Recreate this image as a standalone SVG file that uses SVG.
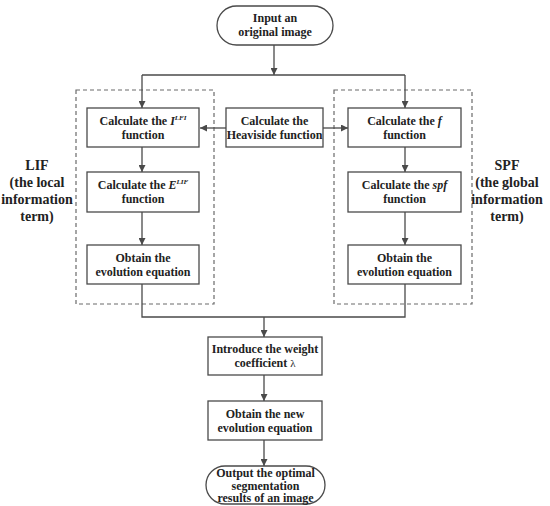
<svg xmlns="http://www.w3.org/2000/svg" width="550" height="506" viewBox="0 0 550 506">
<style>
.box{fill:#fff;stroke:#4a4a4a;stroke-width:1.3}
.dash{fill:none;stroke:#6a6a6a;stroke-width:1.2;stroke-dasharray:4,3}
.t{font-family:"Liberation Serif",serif;font-weight:bold;font-size:12px;fill:#222;text-anchor:middle}
.lbl{font-family:"Liberation Serif",serif;font-weight:bold;font-size:14px;fill:#222;text-anchor:middle}
.ln{fill:none;stroke:#4a4a4a;stroke-width:1.3}
</style>
<defs>
<marker id="ah" viewBox="0 0 10 10" refX="10" refY="5" markerWidth="7" markerHeight="7" orient="auto" markerUnits="userSpaceOnUse">
<path d="M0,0 L10,5 L0,10 z" fill="#4a4a4a"/>
</marker>
</defs>
<rect width="550" height="506" fill="#fff"/>
<g id="groups">
<rect class="dash" x="76" y="90" width="138" height="214"/>
<rect class="dash" x="334" y="90" width="138" height="214"/>
<text class="lbl" x="37" y="170">LIF</text>
<text class="lbl" x="37" y="187">(the local</text>
<text class="lbl" x="37" y="204">information</text>
<text class="lbl" x="37" y="221">term)</text>
<text class="lbl" x="507" y="170">SPF</text>
<text class="lbl" x="507" y="187">(the global</text>
<text class="lbl" x="507" y="204">information</text>
<text class="lbl" x="507" y="221">term)</text>
</g>
<g id="connectors">
<path class="ln" d="M274,45 V75" marker-end="url(#ah)"/>
<path class="ln" d="M142,75 H405"/>
<path class="ln" d="M142,75 V108" marker-end="url(#ah)"/>
<path class="ln" d="M405,75 V108" marker-end="url(#ah)"/>
<path class="ln" d="M226,128 H200" marker-end="url(#ah)"/>
<path class="ln" d="M323,128 H348" marker-end="url(#ah)"/>
<path class="ln" d="M142,147 V172" marker-end="url(#ah)"/>
<path class="ln" d="M142,212 V245" marker-end="url(#ah)"/>
<path class="ln" d="M405,147 V172" marker-end="url(#ah)"/>
<path class="ln" d="M405,212 V245" marker-end="url(#ah)"/>
<path class="ln" d="M142,284 V317 H405 V284"/>
<path class="ln" d="M264,317 V337" marker-end="url(#ah)"/>
<path class="ln" d="M264,375 V401" marker-end="url(#ah)"/>
<path class="ln" d="M264,440 V466" marker-end="url(#ah)"/>
</g>
<g id="input">
<rect class="box" x="217" y="6" width="116" height="39" rx="19.5"/>
<text class="t" x="275" y="22">Input an</text>
<text class="t" x="275" y="36">original image</text>
</g>
<g id="calc-ilfi">
<rect class="box" x="87" y="108" width="112" height="39"/>
<text class="t" x="143" y="125">Calculate the <tspan font-style="italic">I</tspan><tspan font-style="italic" font-size="7" dy="-5">LFI</tspan></text>
<text class="t" x="143" y="139">function</text>
</g>
<g id="heaviside">
<rect class="box" x="226" y="108" width="97" height="39"/>
<text class="t" x="274.5" y="125">Calculate the</text>
<text class="t" x="274.5" y="139">Heaviside function</text>
</g>
<g id="calc-f">
<rect class="box" x="348" y="108" width="113" height="39"/>
<text class="t" x="404.5" y="125">Calculate the <tspan font-style="italic">f</tspan></text>
<text class="t" x="404.5" y="139">function</text>
</g>
<g id="calc-elif">
<rect class="box" x="87" y="172" width="112" height="40"/>
<text class="t" x="143" y="189">Calculate the <tspan font-style="italic">E</tspan><tspan font-style="italic" font-size="7" dy="-5">LIF</tspan></text>
<text class="t" x="143" y="203">function</text>
</g>
<g id="calc-spf">
<rect class="box" x="348" y="172" width="113" height="40"/>
<text class="t" x="404.5" y="189">Calculate the <tspan font-style="italic">spf</tspan></text>
<text class="t" x="404.5" y="203">function</text>
</g>
<g id="evo-left">
<rect class="box" x="87" y="245" width="112" height="39"/>
<text class="t" x="143" y="262">Obtain the</text>
<text class="t" x="143" y="276">evolution equation</text>
</g>
<g id="evo-right">
<rect class="box" x="348" y="245" width="113" height="39"/>
<text class="t" x="404.5" y="262">Obtain the</text>
<text class="t" x="404.5" y="276">evolution equation</text>
</g>
<g id="weight">
<rect class="box" x="208" y="337" width="114" height="38"/>
<text class="t" x="265" y="353">Introduce the weight</text>
<text class="t" x="265" y="367">coefficient <tspan font-weight="normal" font-size="11">λ</tspan></text>
</g>
<g id="new-evo">
<rect class="box" x="208" y="401" width="114" height="39"/>
<text class="t" x="265" y="418">Obtain the new</text>
<text class="t" x="265" y="432">evolution equation</text>
</g>
<g id="output">
<rect class="box" x="206" y="466" width="119" height="38" rx="19"/>
<text class="t" x="265.5" y="477">Output the optimal</text>
<text class="t" x="265.5" y="489.5">segmentation</text>
<text class="t" x="265.5" y="502">results of an image</text>
</g>
</svg>
